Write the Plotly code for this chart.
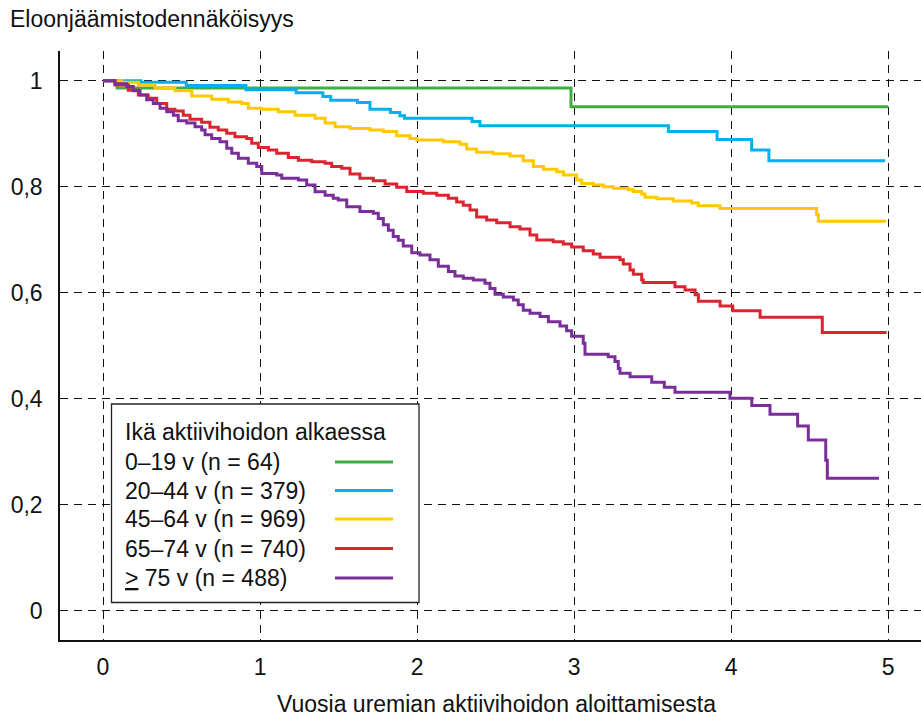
import plotly.graph_objects as go

# ---------------- data ----------------
groups = ["0–19 v (n = 64)", "20–44 v (n = 379)", "45–64 v (n = 969)",
          "65–74 v (n = 740)", "<u>&gt;</u> 75 v (n = 488)"]
colors = ["#3DAE3F", "#00B0F0", "#FFC800", "#DC2430", "#7A2E9A"]

g1_t = [0, 0.09, 2.98, 5.0]
g1_s = [1.0, 0.986, 0.951, 0.951]

g2_t = [0, 0.24, 0.53, 0.91, 1.23, 1.40, 1.45, 1.62, 1.70, 1.83, 1.89, 1.92,
        2.35, 2.40, 3.60, 3.91, 4.13, 4.24, 4.98]
g2_s = [1.0, 0.997, 0.991, 0.983, 0.977, 0.970, 0.963, 0.959, 0.946, 0.940, 0.934, 0.929,
        0.923, 0.915, 0.904, 0.889, 0.869, 0.849, 0.849]

g3_t = [0, 0.119, 0.225, 0.331, 0.458, 0.565, 0.692, 0.798, 0.883, 0.925, 1.010, 1.116,
        1.223, 1.350, 1.414, 1.478, 1.573, 1.700, 1.785, 1.870, 1.955, 1.998, 2.167, 2.273,
        2.316, 2.379, 2.485, 2.592, 2.676, 2.740, 2.804, 2.889, 2.932, 3.016, 3.048, 3.122,
        3.186, 3.249, 3.345, 3.377, 3.430, 3.451, 3.526, 3.631, 3.748, 3.790, 3.929, 4.544,
        4.555, 4.986]
g3_s = [1.0, 0.997, 0.992, 0.986, 0.981, 0.971, 0.965, 0.960, 0.957, 0.948, 0.946, 0.9415,
        0.935, 0.929, 0.920, 0.913, 0.910, 0.907, 0.904, 0.896, 0.891, 0.888, 0.885, 0.880,
        0.871, 0.865, 0.862, 0.858, 0.849, 0.838, 0.833, 0.828, 0.822, 0.8126, 0.806, 0.803,
        0.800, 0.797, 0.794, 0.791, 0.786, 0.780, 0.777, 0.773, 0.769, 0.764, 0.759, 0.747,
        0.735, 0.735]

g4_t = [0, 0.076, 0.161, 0.225, 0.288, 0.342, 0.406, 0.458, 0.511, 0.554, 0.628, 0.681,
        0.734, 0.788, 0.840, 0.915, 0.947, 0.989, 1.053, 1.106, 1.180, 1.244, 1.329, 1.414,
        1.456, 1.520, 1.573, 1.636, 1.721, 1.796, 1.870, 1.934, 2.039, 2.125, 2.199, 2.252,
        2.294, 2.337, 2.379, 2.443, 2.507, 2.592, 2.655, 2.719, 2.762, 2.867, 2.931, 2.984,
        3.058, 3.122, 3.165, 3.292, 3.313, 3.356, 3.377, 3.430, 3.440, 3.642, 3.706, 3.770,
        3.791, 3.929, 4.010, 4.184, 4.580, 4.990]
g4_s = [1.0, 0.992, 0.982, 0.973, 0.967, 0.957, 0.946, 0.943, 0.935, 0.927, 0.9215, 0.912,
        0.907, 0.901, 0.894, 0.891, 0.882, 0.874, 0.869, 0.863, 0.855, 0.850, 0.847, 0.844,
        0.838, 0.835, 0.824, 0.816, 0.811, 0.805, 0.799, 0.791, 0.7875, 0.784, 0.778, 0.771,
        0.765, 0.756, 0.743, 0.737, 0.732, 0.7245, 0.720, 0.709, 0.6995, 0.696, 0.692, 0.686,
        0.679, 0.673, 0.667, 0.662, 0.654, 0.643, 0.635, 0.624, 0.619, 0.611, 0.605, 0.596,
        0.584, 0.575, 0.566, 0.5535, 0.525, 0.525]

g5_t = [0, 0.076, 0.151, 0.193, 0.236, 0.278, 0.320, 0.363, 0.406, 0.448, 0.479, 0.533,
        0.586, 0.628, 0.650, 0.692, 0.745, 0.788, 0.820, 0.862, 0.925, 0.979, 1.011, 1.106,
        1.138, 1.244, 1.297, 1.350, 1.414, 1.466, 1.498, 1.552, 1.636, 1.721, 1.753, 1.785,
        1.817, 1.848, 1.880, 1.912, 1.966, 2.018, 2.082, 2.135, 2.199, 2.241, 2.294, 2.358,
        2.432, 2.464, 2.496, 2.549, 2.613, 2.644, 2.676, 2.719, 2.783, 2.836, 2.910, 2.952,
        2.984, 3.058, 3.069, 3.217, 3.260, 3.281, 3.292, 3.356, 3.494, 3.574, 3.642, 3.992,
        4.131, 4.247, 4.423, 4.491, 4.602, 4.612, 4.941]
g5_s = [1.0, 0.994, 0.989, 0.981, 0.973, 0.964, 0.957, 0.948, 0.9415, 0.935, 0.9245, 0.920,
        0.913, 0.907, 0.898, 0.891, 0.885, 0.8725, 0.863, 0.8536, 0.844, 0.838, 0.825, 0.822,
        0.816, 0.8126, 0.803, 0.7906, 0.784, 0.778, 0.775, 0.762, 0.753, 0.750, 0.740, 0.728,
        0.718, 0.706, 0.699, 0.688, 0.6755, 0.671, 0.662, 0.650, 0.640, 0.6315, 0.627, 0.624,
        0.618, 0.608, 0.597, 0.592, 0.586, 0.577, 0.567, 0.561, 0.555, 0.545, 0.537, 0.528,
        0.518, 0.5045, 0.484, 0.479, 0.470, 0.457, 0.448, 0.4415, 0.431, 0.4215, 0.412, 0.401,
        0.387, 0.3705, 0.3485, 0.322, 0.284, 0.250, 0.250]

x_ticks = [0, 1, 2, 3, 4, 5]
x_ticklabels = ["0", "1", "2", "3", "4", "5"]
y_ticks = [0, 0.2, 0.4, 0.6, 0.8, 1.0]
y_ticklabels = ["0", "0,2", "0,4", "0,6", "0,8", "1"]

y_title = "Eloonjäämistodennäköisyys"
x_title = "Vuosia uremian aktiivihoidon aloittamisesta"
legend_title = "Ikä aktiivihoidon alkaessa"

series = [(g1_t, g1_s), (g2_t, g2_s), (g3_t, g3_s), (g4_t, g4_s), (g5_t, g5_s)]

# ---------------- figure ----------------
W, H = 921, 717
ML, MR, MT, MB = 60, 0, 51, 77
FONT = "Liberation Sans, Arial, sans-serif"
FS = 23
LW = 3


def px(x):
    return (x - ML) / (W - ML - MR)


def py(y):
    return (H - MB - y) / (H - MT - MB)


fig = go.Figure()
for (t, s), c, name in zip(series, colors, groups):
    fig.add_trace(go.Scatter(x=t, y=s, mode="lines", line=dict(color=c, width=LW, shape="hv"),
                             name=name, showlegend=False))

axis_common = dict(showline=True, linecolor="#111", linewidth=1.5, mirror=False,
                   showgrid=True, gridcolor="#111", gridwidth=1, griddash="8px,6px",
                   zeroline=False, ticks="", tickfont=dict(family=FONT, size=FS, color="#111"))

fig.update_xaxes(range=[-0.2738, 5.2085], tickvals=x_ticks, ticktext=x_ticklabels,
                 ticklabelstandoff=6, **axis_common)
fig.update_yaxes(range=[-0.0553, 1.056], tickvals=y_ticks, ticktext=y_ticklabels,
                 ticklabelstandoff=11, **axis_common)

shapes = [dict(type="rect", xref="paper", yref="paper", x0=px(111.5), x1=px(419), y0=py(602.5),
               y1=py(404), line=dict(color="#222", width=1.3), fillcolor="white", layer="above")]
annotations = [
    dict(text=y_title, xref="paper", yref="paper", x=px(8), y=py(19), xanchor="left",
         yanchor="middle", showarrow=False, font=dict(family=FONT, size=FS, color="#111")),
    dict(text=x_title, xref="paper", yref="paper", x=px(496.5), y=py(704), xanchor="center",
         yanchor="middle", showarrow=False, font=dict(family=FONT, size=FS, color="#111")),
    dict(text=legend_title, xref="paper", yref="paper", x=px(123), y=py(432), xanchor="left",
         yanchor="middle", showarrow=False, font=dict(family=FONT, size=FS, color="#111")),
]
row_y = [462, 490.5, 519, 548.5, 578]
for yy, c, name in zip(row_y, colors, groups):
    annotations.append(dict(text=name, xref="paper", yref="paper", x=px(123), y=py(yy),
                            xanchor="left", yanchor="middle", showarrow=False,
                            font=dict(family=FONT, size=FS, color="#111")))
    shapes.append(dict(type="line", xref="paper", yref="paper", x0=px(335), x1=px(393),
                       y0=py(yy), y1=py(yy), line=dict(color=c, width=LW), layer="above"))

fig.update_layout(width=W, height=H, margin=dict(l=ML, r=MR, t=MT, b=MB, pad=0),
                  plot_bgcolor="white", paper_bgcolor="white", showlegend=False,
                  font=dict(family=FONT, size=FS, color="#111"),
                  shapes=shapes, annotations=annotations)

fig.write_html("out.html")
